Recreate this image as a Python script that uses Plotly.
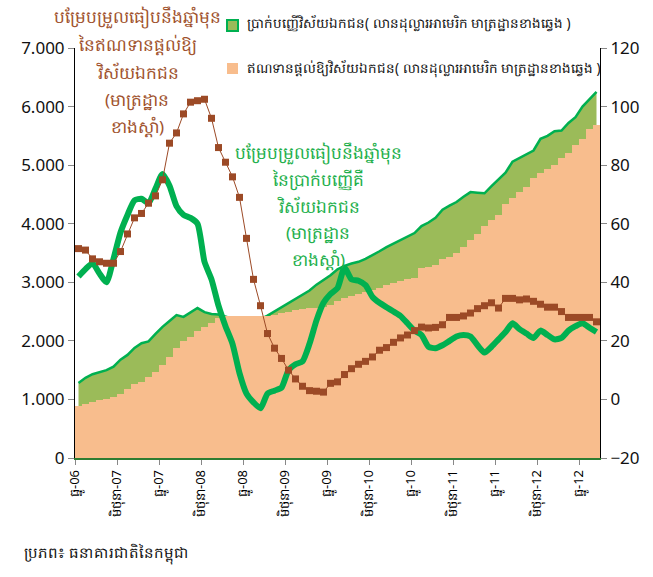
import plotly.graph_objects as go

# ---------------- data ----------------
tick_labels = ["ធ្នូ-06", "មិថុនា-07", "ធ្នូ-07", "មិថុនា-08", "ធ្នូ-08", "មិថុនា-09",
               "ធ្នូ-09", "មិថុនា-10", "ធ្នូ-10", "មិថុនា-11", "ធ្នូ-11", "មិថុនា-12", "ធ្នូ-12"]

# Private-sector deposits (million USD, left axis), monthly Dec-06 .. Feb-13
deposits = [1280, 1370, 1430, 1460, 1500, 1560, 1680, 1760, 1880, 1960,
            1990, 2120, 2240, 2340, 2440, 2410, 2480, 2560, 2490, 2460,
            2450, 2410, 2380, 2350, 2330, 2340, 2370, 2430, 2500, 2570,
            2650, 2720, 2790, 2860, 2960, 3040, 3120, 3220, 3280, 3320,
            3350, 3400, 3460, 3530, 3600, 3660, 3720, 3780, 3840, 3960,
            4020, 4100, 4240, 4310, 4370, 4460, 4540, 4530, 4520, 4640,
            4760, 4870, 5060, 5120, 5180, 5250, 5450, 5500, 5580, 5590,
            5720, 5820, 6000, 6130, 6250]

# Credit to private sector (million USD, left axis)
loans = [880, 930, 960, 990, 1010, 1050, 1100, 1180, 1260, 1300,
         1380, 1460, 1580, 1730, 1880, 2000, 2070, 2160, 2230, 2300,
         2390, 2420, 2420, 2420, 2420, 2420, 2420, 2430, 2450, 2480,
         2500, 2520, 2540, 2555, 2565, 2575, 2620, 2680, 2730, 2760,
         2800, 2840, 2870, 2900, 2950, 2990, 3030, 3060, 3080, 3240,
         3260, 3290, 3390, 3440, 3500, 3600, 3720, 3830, 3960, 4060,
         4150, 4330, 4440, 4550, 4620, 4780, 4860, 4940, 5000, 5120,
         5210, 5340, 5440, 5610, 5690]

# Year-on-year change of deposits (%, right axis)
dep_growth = [42, 44.5, 46.5, 43, 40, 48, 57, 63, 68, 68.5,
              67, 72, 77, 73, 66, 63, 62, 60, 47, 41,
              32, 25, 19, 9, 2, -1, -3, 2, 3, 4,
              10, 12, 13, 19, 27, 33, 36, 38, 45, 41,
              40.5, 39, 35, 33, 31.5, 30, 28.5, 26, 23.5, 22,
              18, 17.5, 18.5, 20, 21.5, 22, 21.5, 18.5, 16, 18,
              20.5, 23, 26, 24, 22.5, 21, 23.5, 22, 20.5, 21,
              23.5, 25, 26, 24.5, 23]

# Year-on-year change of credit (%, right axis)
loan_growth = [51.5, 51, 48, 47, 46.5, 46.5, 50.5, 56.5, 62, 63.5,
               67, 69.5, 75, 87.5, 91, 97.5, 101.5, 102, 102.5, 96,
               86, 81, 76, 69, 55, 41, 32, 22.5, 17.5, 14,
               10, 7, 4.5, 3, 2.8, 2.5, 5.5, 6, 8.5, 10.5,
               12, 13, 14.5, 16.8, 17.7, 19.5, 21, 22, 23.5, 24.7,
               24.4, 24.6, 25.5, 28, 28, 28.5, 29.5, 31, 32, 33,
               31.2, 34.5, 34.5, 34, 34.3, 33.5, 32.5, 31.5, 31.5, 30,
               28, 28, 28, 28, 26.5]

dep_name = "ប្រាក់បញ្ញើវិស័យឯកជន( លានដុល្លារអាមេរិក មាត្រដ្ឋានខាងឆ្វេង )"
loan_name = "ឥណទានផ្តល់ឱ្យវិស័យឯកជន( លានដុល្លារអាមេរិក មាត្រដ្ឋានខាងឆ្វេង )"
loan_note = ["បម្រែបម្រួលធៀបនឹងឆ្នាំមុន", "នៃឥណទានផ្តល់ឱ្យ", "វិស័យឯកជន", "(មាត្រដ្ឋាន", "ខាងស្តាំ)"]
dep_note = ["បម្រែបម្រួលធៀបនឹងឆ្នាំមុន", "នៃប្រាក់បញ្ញើគឺ", "វិស័យឯកជន", "(មាត្រដ្ឋាន", "ខាងស្តាំ)"]
source = "ប្រភព៖ ធនាគារជាតិនៃកម្ពុជា"

# ---------------- figure ----------------
W, H = 653, 577
L, R, T, B = 75, 53, 48, 119
FONT = "Noto Sans, DejaVu Sans, sans-serif"
GREEN_FILL = "#9BBB59"
GREEN = "#00B050"
ORANGE = "#F8BD8D"
BROWN = "#9C4A26"

x = list(range(len(deposits)))

fig = go.Figure()
fig.add_trace(go.Scatter(x=x, y=deposits, name=dep_name, mode="lines",
                         fill="tozeroy", fillcolor=GREEN_FILL,
                         line=dict(color=GREEN, width=2.5), yaxis="y",
                         showlegend=False))
fig.add_trace(go.Bar(x=x, y=loans, name=loan_name, width=1.0,
                     marker=dict(color=ORANGE, line=dict(width=0)),
                     yaxis="y2", showlegend=False))
fig.add_trace(go.Scatter(x=x, y=dep_growth, mode="lines",
                         line=dict(color=GREEN, width=6, shape="spline", smoothing=0.6),
                         yaxis="y3", showlegend=False))
fig.add_trace(go.Scatter(x=x, y=loan_growth, mode="lines+markers",
                         line=dict(color=BROWN, width=1),
                         marker=dict(symbol="square", size=7, color=BROWN),
                         yaxis="y3", showlegend=False))

tickvals = [6 * k - 0.5 for k in range(len(tick_labels))]

fig.update_layout(
    width=W, height=H,
    margin=dict(l=L, r=R, t=T, b=B),
    paper_bgcolor="white", plot_bgcolor="white",
    bargap=0,
    font=dict(family=FONT, color="#000000"),
    xaxis=dict(range=[-0.5, len(deposits) - 0.5], tickmode="array",
               tickvals=tickvals, ticktext=tick_labels, tickangle=-90,
               tickfont=dict(size=13, color="#000"), ticks="outside",
               ticklen=5, tickcolor="#888", showline=True,
               linecolor="#2E7D32", linewidth=1.5, showgrid=False, zeroline=False),
    yaxis=dict(range=[0, 7000], tickvals=[0, 1000, 2000, 3000, 4000, 5000, 6000, 7000],
               ticktext=["0", "1.000", "2.000", "3.000", "4.000", "5.000", "6.000", "7.000"],
               tickfont=dict(size=17, color="#111"), ticks="outside", ticklen=6,
               tickcolor="#888", showline=True, linecolor="#000", linewidth=1,
               showgrid=False, zeroline=False),
    yaxis2=dict(range=[0, 7000], overlaying="y", visible=False),
    yaxis3=dict(range=[-20, 120], overlaying="y", side="right",
                tickvals=[-20, 0, 20, 40, 60, 80, 100, 120],
                tickfont=dict(size=17, color="#111"), ticks="outside", ticklen=6,
                tickcolor="#888", showline=True, linecolor="#000", linewidth=1,
                showgrid=False, zeroline=False),
)

pw = W - L - R
ph = H - T - B

def px(xp):
    return (xp - L) / pw

def py(yp):
    return (H - B - yp) / ph

anns = []
for i, line in enumerate(loan_note):
    anns.append(dict(x=px(137), y=py(17 + 27.5 * i), xref="paper", yref="paper",
                     text=line, showarrow=False, xanchor="center", yanchor="middle",
                     font=dict(size=17, color="#A0522D", family=FONT)))
for i, line in enumerate(dep_note):
    anns.append(dict(x=px(318), y=py(153 + 26.5 * i), xref="paper", yref="paper",
                     text=line, showarrow=False, xanchor="center", yanchor="middle",
                     font=dict(size=17, color="#1DAF4B", family=FONT)))
anns.append(dict(x=px(245), y=py(24), xref="paper", yref="paper", text=dep_name,
                 showarrow=False, xanchor="left", yanchor="middle",
                 font=dict(size=13.5, color="#111", family=FONT)))
anns.append(dict(x=px(245), y=py(68), xref="paper", yref="paper", text=loan_name,
                 showarrow=False, xanchor="left", yanchor="middle",
                 font=dict(size=13.5, color="#111", family=FONT)))
anns.append(dict(x=px(22), y=py(553), xref="paper", yref="paper", text=source,
                 showarrow=False, xanchor="left", yanchor="middle",
                 font=dict(size=15, color="#111", family=FONT)))
fig.update_layout(annotations=anns)

fig.update_layout(shapes=[
    dict(type="rect", xref="paper", yref="paper", x0=px(227), x1=px(238),
         y0=py(31), y1=py(20), fillcolor=GREEN_FILL, line=dict(color=GREEN, width=2)),
    dict(type="rect", xref="paper", yref="paper", x0=px(227), x1=px(238),
         y0=py(74), y1=py(63), fillcolor=ORANGE, line=dict(width=0)),
])

fig.write_html("out.html", config={"displayModeBar": False},
               post_script="document.body.style.margin='0';document.body.style.overflow='hidden';")
